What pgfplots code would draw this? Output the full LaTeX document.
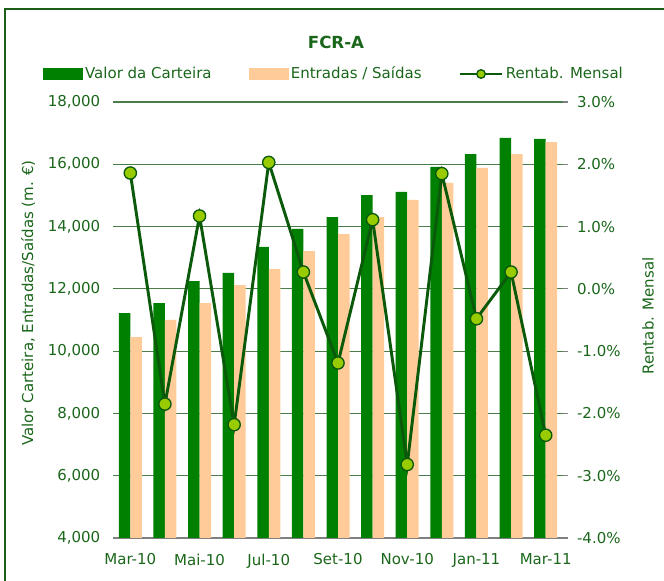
\documentclass[border=0pt]{standalone}
\usepackage{pgfplots}
\pgfplotsset{compat=1.18}
\usepackage{fontspec}
\setmainfont{DejaVu Sans}
\definecolor{txt}{HTML}{1A661A}
\definecolor{frame}{HTML}{1A5E1A}
\definecolor{gridc}{HTML}{4A7D4A}
\definecolor{bargreen}{HTML}{008000}
\definecolor{peach}{HTML}{FFCC99}
\definecolor{linegreen}{HTML}{0B5A0B}
\definecolor{markc}{HTML}{99CC00}
\definecolor{axgray}{HTML}{808080}

\pgfplotstableread{
x valor entradas rent
0 11224 10453 1.86
1 11545 11000 -1.85
2 12252 11545 1.17
3 12509 12123 -2.18
4 13344 12637 2.03
5 13922 13215 0.27
6 14307 13761 -1.19
7 15013 14307 1.11
8 15110 14853 -2.82
9 15913 15399 1.85
10 16330 15881 -0.48
11 16844 16330 0.27
12 16812 16715 -2.35
}\data

\begin{document}
\begin{tikzpicture}
\useasboundingbox (0,0) rectangle (498pt,435.75pt);
\draw[frame, line width=1.6pt] (3.75pt,-20pt) rectangle (520pt,429pt);
\node[txt, font=\fontsize{12.5}{15}\selectfont\bfseries] at (252pt,404.25pt) {FCR-A};
\node[txt, rotate=90, font=\fontsize{11.25}{13.5}\selectfont] at (21pt,208.5pt) {Valor Carteira, Entradas/Saídas (m. €)};
\node[txt, rotate=90, font=\fontsize{11.25}{13.5}\selectfont] at (486pt,198.75pt) {Rentab. Mensal};

\begin{axis}[
  at={(84.75pt,32.25pt)}, anchor=south west,
  width=337.5pt, height=327pt, scale only axis,
  xmin=-0.5, xmax=12.5, ymin=4000, ymax=18000,
  scaled y ticks=false,
  ybar=0pt, bar width=8.625pt,
  axis x line*=bottom, axis y line*=left,
  x axis line style={axgray, line width=0.8pt, -},
  y axis line style={draw=none},
  xtick={0,2,...,12},
  xticklabels={Mar-10,Mai-10,Jul-10,Set-10,Nov-10,Jan-11,Mar-11},
  major x tick style={draw=none},
  extra x ticks={-0.5,1.5,3.5,5.5,7.5,9.5,11.5},
  extra x tick labels={},
  extra x tick style={tick style={axgray, line width=0.8pt}, major tick length=5pt, tick align=outside, grid=none},
  ytick={4000,6000,...,18000},
  yticklabels={{4,000},{6,000},{8,000},{10,000},{12,000},{14,000},{16,000},{18,000}},
  ytick style={draw=none},
  ymajorgrids, grid style={gridc, line width=0.8pt},
  ticklabel style={txt, font=\fontsize{11.25}{13.5}\selectfont},
  yticklabel style={xshift=-6pt},
  xticklabel style={yshift=-4pt},
  clip=true,
]
\addplot[fill=bargreen, draw=none] table[x=x, y=valor] {\data};
\addplot[fill=peach, draw=none] table[x=x, y=entradas] {\data};
\end{axis}

\begin{axis}[
  at={(84.75pt,32.25pt)}, anchor=south west,
  width=337.5pt, height=327pt, scale only axis,
  xmin=-0.5, xmax=12.5, ymin=-4, ymax=3,
  axis x line=none, axis y line*=right,
  y axis line style={draw=none},
  ytick={-4,-3,...,3},
  yticklabels={-4.0\%,-3.0\%,-2.0\%,-1.0\%,0.0\%,1.0\%,2.0\%,3.0\%},
  ytick style={axgray, line width=0.8pt}, major tick length=4pt, tick align=outside,
  ticklabel style={txt, font=\fontsize{11.25}{13.5}\selectfont},
  yticklabel style={xshift=3pt},
  legend columns=3,
  legend style={at={(0.492,1)}, anchor=center, yshift=21pt, draw=none, fill=none,
    font=\fontsize{11.25}{13.5}\selectfont, text=txt,
    /tikz/every even column/.append style={column sep=26pt},
    inner sep=0pt, nodes={inner sep=2pt}},
  clip=false,
]
\addlegendimage{legend image code/.code={\fill[bargreen] (0pt,-4pt) rectangle (29pt,4pt);}}
\addlegendentry{Valor da Carteira}
\addlegendimage{legend image code/.code={\fill[peach] (0pt,-4pt) rectangle (29pt,4pt);}}
\addlegendentry{Entradas / Saídas}
\addplot[linegreen, line width=2.2pt, mark=*, mark size=4.6pt,
  mark options={fill=markc, draw=linegreen, line width=1pt},
  legend image code/.code={\draw[linegreen, line width=2.2pt] (0pt,0pt) -- (31pt,0pt);
     \fill[markc, draw=linegreen, line width=1pt] (15.5pt,0pt) circle (3.2pt);}]
  table[x=x, y=rent] {\data};
\addlegendentry{Rentab. Mensal}
\end{axis}
\end{tikzpicture}
\end{document}
